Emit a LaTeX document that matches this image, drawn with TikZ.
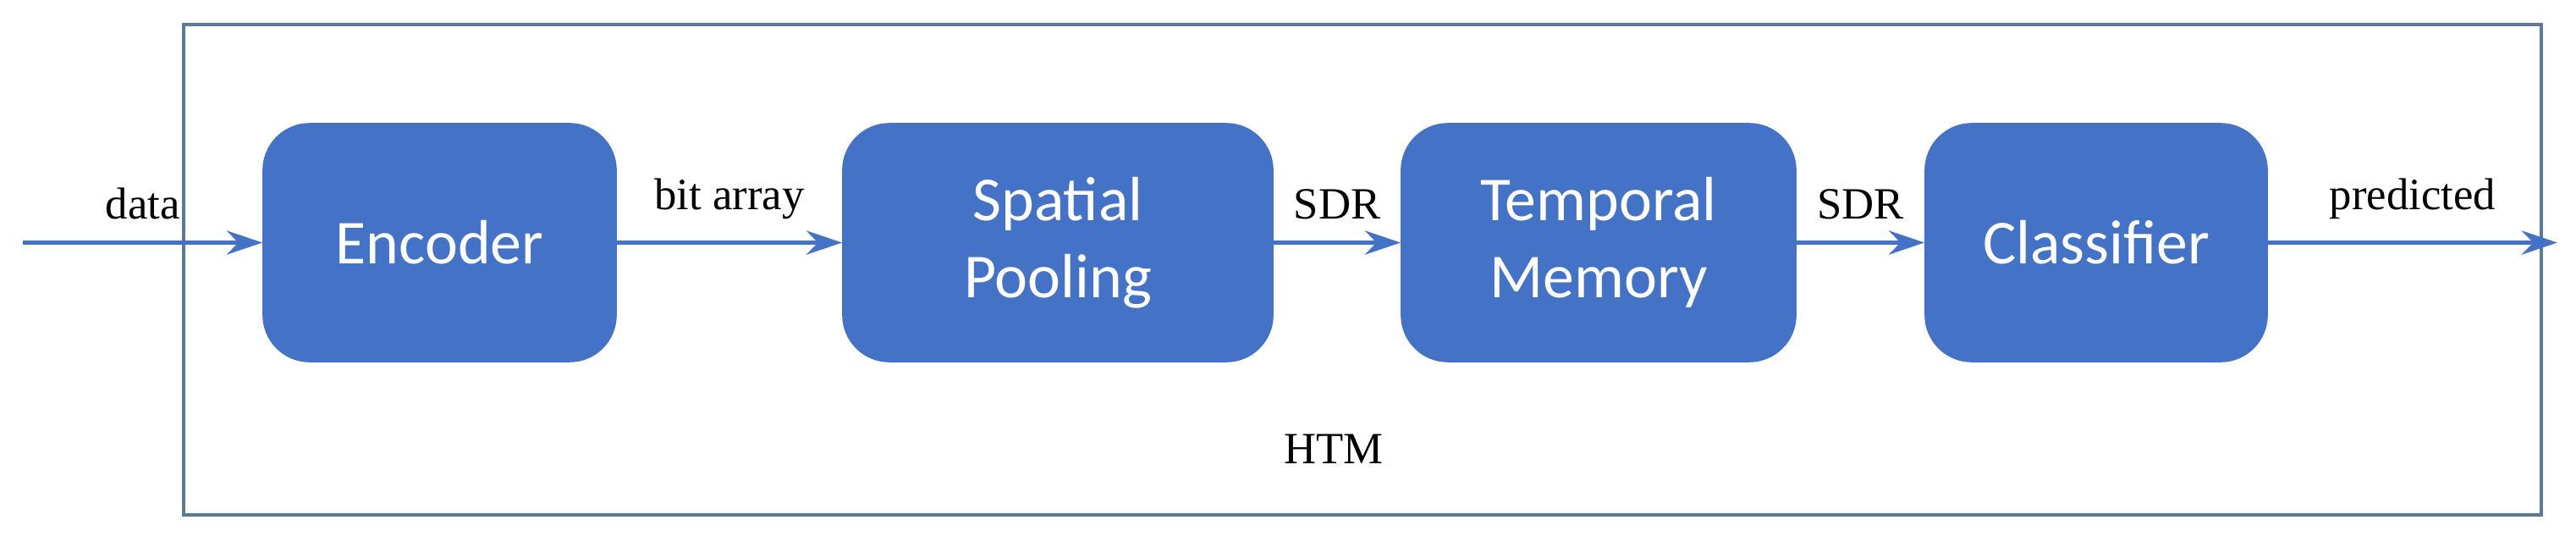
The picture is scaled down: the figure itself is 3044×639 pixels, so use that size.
\documentclass[tikz,border=0pt]{standalone}
\usepackage{fontspec}
\setmainfont{Liberation Serif}
\newfontfamily\boxfont{Carlito}
\usetikzlibrary{arrows.meta}
\definecolor{boxblue}{HTML}{4472C4}
\definecolor{frame}{HTML}{5B7A99}
\begin{document}
\begin{tikzpicture}[x=0.01cm,y=-0.01cm,
  blk/.style={draw=boxblue,fill=boxblue,rounded corners=0.55cm,text=white,font=\boxfont\fontsize{21}{26}\selectfont,align=center,inner sep=0,minimum height=2.81cm},
  lbl/.style={font=\fontsize{15}{18}\selectfont,above,inner sep=7pt},
  arr/.style={draw=boxblue,line width=1.6pt,-{Stealth[length=12pt,width=8pt]}}]
\useasboundingbox (0,0) rectangle (3044,639);
\draw[frame,line width=1.2pt] (217,29) rectangle (3003,608);
\node[font=\fontsize{15}{18}\selectfont] (htmlbl) at (1576,530) {HTM};
\node[blk,minimum width=4.17cm] (enc) at (519.5,286.5) {Encoder};
\node[blk,minimum width=5.08cm] (sp) at (1250,286.5) {Spatial\\Pooling};
\node[blk,minimum width=4.66cm] (tm) at (1889,286.5) {Temporal\\Memory};
\node[blk,minimum width=4.04cm] (cl) at (2477,286.5) {Classifier};
\coordinate (in) at (27,286.5);
\coordinate (out) at (3022,286.5);
\draw[arr] (in) -- node[lbl]{data} (enc);
\draw[arr] (enc) -- node[lbl]{bit array} (sp);
\draw[arr] (sp) -- node[lbl]{SDR} (tm);
\draw[arr] (tm) -- node[lbl]{SDR} (cl);
\draw[arr] (cl) -- node[lbl]{predicted} (out);
\end{tikzpicture}
\end{document}
